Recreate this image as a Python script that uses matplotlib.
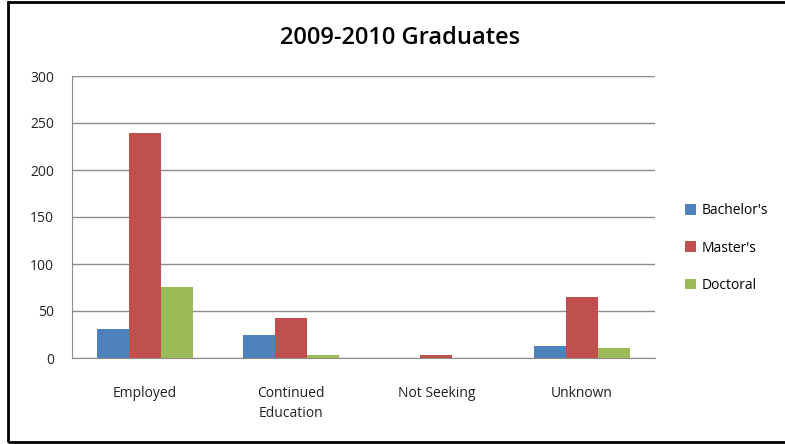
import matplotlib
matplotlib.use("Agg")
import matplotlib.pyplot as plt
import numpy as np
from matplotlib.patches import Rectangle

categories = ["Employed", "Continued\nEducation", "Not Seeking", "Unknown"]
series = ["Bachelor's", "Master's", "Doctoral"]
bachelors = [31, 24, 0, 13]
masters = [239, 43, 3, 65]
doctoral = [76, 3, 0, 11]
colors = ["#4f81bd", "#c0504d", "#9bbb59"]
yticks = [0, 50, 100, 150, 200, 250, 300]

plt.rcParams['font.family'] = ['Open Sans', 'DejaVu Sans']

fig = plt.figure(figsize=(7.85, 4.44), dpi=100)
ax = fig.add_axes([72/785, 1-358/444, (655-72)/785, (358-76)/444])

x = np.arange(len(categories))
w = 0.22
for i, (vals, col) in enumerate(zip([bachelors, masters, doctoral], colors)):
    ax.bar(x + (i-1)*w, vals, w, color=col, label=series[i], zorder=3)

ax.set_xlim(-0.5, len(categories)-0.5)
ax.set_ylim(0, 300)
ax.set_yticks(yticks)
ax.yaxis.grid(True, color="#8c8c8c", linewidth=1, zorder=0)
ax.set_xticks(x)
ax.set_xticklabels(categories, fontsize=10, color="#222222", linespacing=1.5)
ax.tick_params(axis='x', length=0, pad=20)
ax.tick_params(axis='y', length=0, pad=13, labelsize=10, labelcolor="#222222")
for s in ["top", "right"]:
    ax.spines[s].set_visible(False)
for s in ["left", "bottom"]:
    ax.spines[s].set_color("#8c8c8c")

fig.text(400/785, 1-38/444, "2009-2010 Graduates", ha="center", va="center",
         fontsize=17, fontweight="semibold")

handles, labels = ax.get_legend_handles_labels()
fig.legend(handles, labels, loc="center left", bbox_to_anchor=(672/785, 1-248/444),
           frameon=False, fontsize=10, handlelength=0.8, handleheight=0.8,
           labelspacing=1.6, handletextpad=0.4)

# outer chart frame
fig.patches.append(Rectangle((8/785, 2/444), 1.0, 440/444, transform=fig.transFigure,
                             fill=False, edgecolor="black", linewidth=2))

fig.savefig("out.png", dpi=100)
